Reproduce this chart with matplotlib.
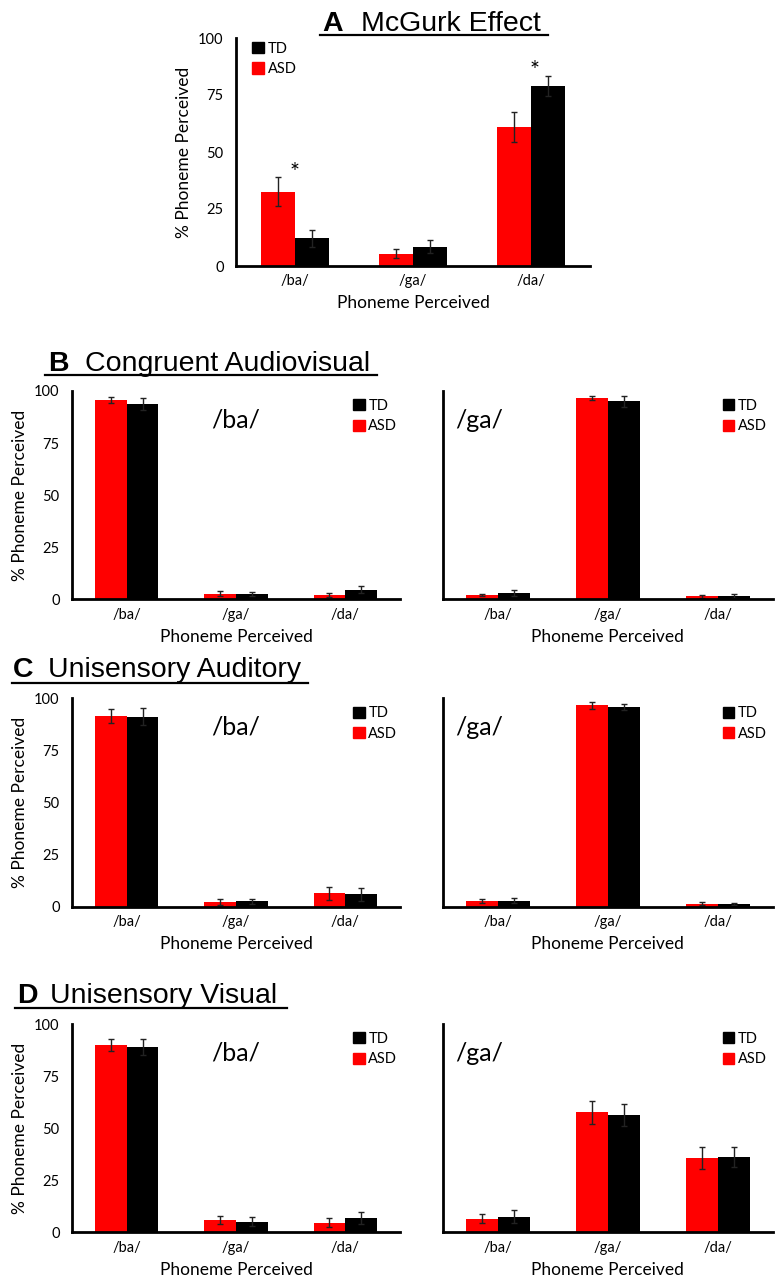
import numpy as np
import matplotlib
matplotlib.use("Agg")
import matplotlib.pyplot as plt
from matplotlib.lines import Line2D
from matplotlib.patches import Patch

plt.rcParams['font.family'] = ['Lato', 'DejaVu Sans']

W, H = 784, 1280
phonemes = ["/ba/", "/ga/", "/da/"]

# panel A: McGurk
a_asd = [32.6, 5.3, 61.1]
a_asd_err = [6.5, 2.0, 6.6]
a_td = [12.1, 8.5, 78.9]
a_td_err = [3.7, 3.0, 4.4]

# panel B: congruent audiovisual (left = /ba/ stimulus, right = /ga/ stimulus)
b_ba_asd = [95.6, 2.6, 2.1]
b_ba_asd_err = [1.5, 1.2, 0.9]
b_ba_td = [93.8, 2.4, 4.5]
b_ba_td_err = [2.7, 1.0, 1.7]
b_ga_asd = [2.1, 96.5, 1.4]
b_ga_asd_err = [0.6, 1.0, 0.7]
b_ga_td = [3.0, 95.0, 1.6]
b_ga_td_err = [1.5, 2.6, 0.8]

# panel C: unisensory auditory
c_ba_asd = [91.5, 2.1, 6.4]
c_ba_asd_err = [3.2, 1.4, 3.2]
c_ba_td = [91.2, 2.6, 5.9]
c_ba_td_err = [4.0, 1.2, 3.2]
c_ga_asd = [2.9, 96.6, 1.4]
c_ga_asd_err = [0.9, 1.5, 0.8]
c_ga_td = [2.9, 95.7, 1.4]
c_ga_td_err = [1.1, 1.4, 0.5]

# panel D: unisensory visual
d_ba_asd = [90.1, 5.9, 4.6]
d_ba_asd_err = [2.9, 1.9, 2.1]
d_ba_td = [89.1, 5.0, 6.9]
d_ba_td_err = [3.9, 2.2, 2.7]
d_ga_asd = [6.6, 57.6, 35.7]
d_ga_asd_err = [2.2, 5.6, 5.4]
d_ga_td = [7.5, 56.3, 36.3]
d_ga_td_err = [3.2, 5.1, 4.8]

RED = "#ff0000"
BW = 0.29

fig = plt.figure(figsize=(W / 100, H / 100), dpi=100)


def add_ax(x0, x1, y0, y1):
    # pixel box -> figure fraction
    return fig.add_axes([x0 / W, 1 - y1 / H, (x1 - x0) / W, (y1 - y0) / H])


def bars(ax, asd, asd_err, td, td_err, yticks=True, ylabel=True):
    x = np.arange(3)
    ax.bar(x - BW / 2, asd, BW, color=RED, yerr=asd_err, capsize=2.5,
           error_kw=dict(elinewidth=1, capthick=1, ecolor="#222222"))
    ax.bar(x + BW / 2, td, BW, color="black", yerr=td_err, capsize=2.5,
           error_kw=dict(elinewidth=1, capthick=1, ecolor="#222222"))
    ax.set_xlim(-0.5, 2.5)
    ax.set_ylim(0, 100)
    ax.set_xticks(x)
    ax.set_xticklabels(phonemes, fontsize=10.5)
    ax.tick_params(length=0, pad=6)
    for s in ["top", "right"]:
        ax.spines[s].set_visible(False)
    ax.spines["left"].set_linewidth(2)
    ax.spines["bottom"].set_linewidth(2)
    if yticks:
        ax.set_yticks([0, 25, 50, 75, 100])
        ax.tick_params(axis="y", labelsize=10.5, pad=9)
    else:
        ax.set_yticks([])
    if ylabel:
        ax.set_ylabel("% Phoneme Perceived", fontsize=12.5, labelpad=4)
    ax.set_xlabel("Phoneme Perceived", fontsize=12.5, labelpad=5)


def legend(ax, loc, anchor):
    h = [Patch(color="black"), Patch(color=RED)]
    ax.legend(h, ["TD", "ASD"], loc=loc, bbox_to_anchor=anchor, frameon=False,
              fontsize=10.5, handlelength=0.8, handleheight=0.8,
              handletextpad=0.25, labelspacing=0.45, borderaxespad=0)


def title(letter, rest, x_letter, x_rest, y_base, x_line0, x_line1, y_line):
    fig.text(x_letter / W, 1 - y_base / H, letter, fontsize=20.5, fontweight="bold",
             family="Liberation Sans", va="baseline")
    fig.text(x_rest / W, 1 - y_base / H, rest, fontsize=20.5,
             family="Liberation Sans", va="baseline")
    fig.add_artist(Line2D([x_line0 / W, x_line1 / W], [1 - y_line / H, 1 - y_line / H],
                          color="black", lw=1.6))


# A
ax = add_ax(236, 590, 38, 266)
bars(ax, a_asd, a_asd_err, a_td, a_td_err)
legend(ax, "upper left", (0.03, 1.01))
ax.text(0.0, 38, "*", ha="center", fontsize=17)
ax.text(2.03, 83, "*", ha="center", fontsize=17)
title("A", "McGurk Effect", 322, 361, 31, 320, 548, 35)

# B, C, D rows
rows = [
    (391, 599.3, b_ba_asd, b_ba_asd_err, b_ba_td, b_ba_td_err,
     b_ga_asd, b_ga_asd_err, b_ga_td, b_ga_td_err),
    (698.3, 906.7, c_ba_asd, c_ba_asd_err, c_ba_td, c_ba_td_err,
     c_ga_asd, c_ga_asd_err, c_ga_td, c_ga_td_err),
    (1024, 1232.3, d_ba_asd, d_ba_asd_err, d_ba_td, d_ba_td_err,
     d_ga_asd, d_ga_asd_err, d_ga_td, d_ga_td_err),
]
for r in rows:
    y0, y1 = r[0], r[1]
    axl = add_ax(72, 400, y0, y1)
    bars(axl, r[2], r[3], r[4], r[5])
    legend(axl, "upper right", (1.01, 0.99))
    axl.text(0.5, 0.86, "/ba/", transform=axl.transAxes, ha="center", va="center",
             fontsize=18)
    axr = add_ax(442.7, 772.7, y0, y1)
    bars(axr, r[6], r[7], r[8], r[9], yticks=False, ylabel=False)
    legend(axr, "upper right", (1.0, 0.99))
    axr.text(0.11, 0.86, "/ga/", transform=axr.transAxes, ha="center", va="center",
             fontsize=18)

title("B", "Congruent Audiovisual", 48, 85, 371, 45, 377, 375)
title("C", "Unisensory Auditory", 13, 48, 677, 12, 308, 683)
title("D", "Unisensory Visual", 17, 50, 1003, 15, 287, 1008)

fig.savefig("out.png", dpi=100)
